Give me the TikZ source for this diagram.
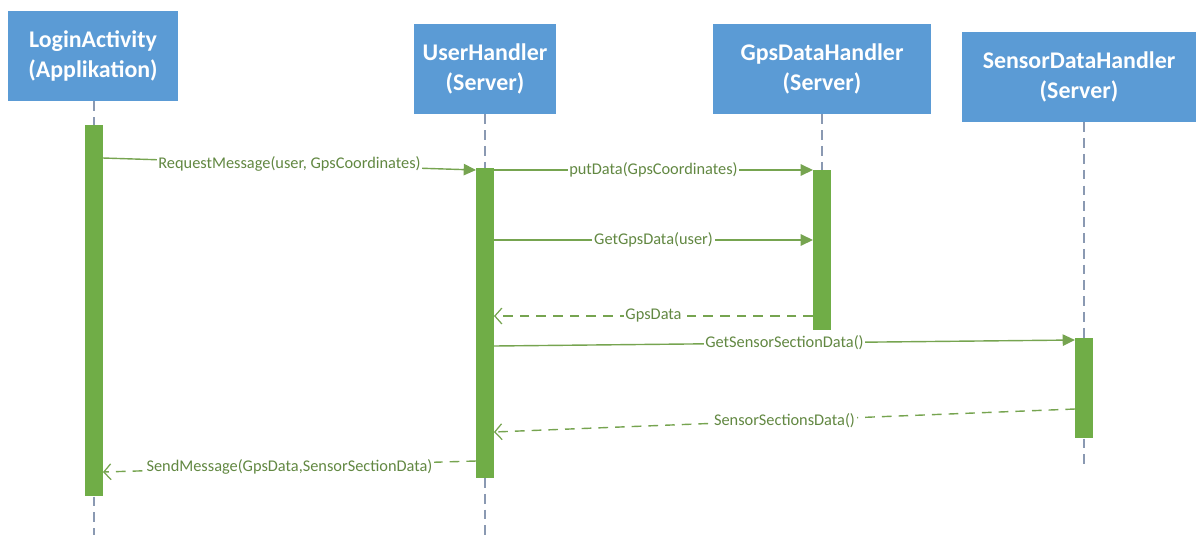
\documentclass[tikz,border=0pt]{standalone}
\usepackage{fontspec}
\setmainfont{Carlito}
\usetikzlibrary{arrows.meta,positioning,calc}

\definecolor{boxblue}{RGB}{91,155,213}
\definecolor{bargreen}{RGB}{112,173,71}
\definecolor{msggreen}{RGB}{118,164,80}
\definecolor{lblgreen}{RGB}{98,136,66}
\definecolor{lifegray}{RGB}{138,153,178}

\begin{document}
\begin{tikzpicture}[
    x=0.02cm,
    y=-0.02cm,
    actor/.style={
        draw=none,
        fill=boxblue,
        align=center,
        text=white,
        minimum height=1.8cm,
        inner sep=4pt,
        font=\fontsize{13.6}{17}\selectfont\bfseries
    },
    bar/.style={
        draw=none,
        fill=bargreen,
        minimum width=0.36cm,
        inner sep=0pt
    },
    lifeline/.style={
        lifegray,
        line width=0.6pt,
        dash pattern=on 5.5pt off 3.5pt
    },
    msg/.style={-{Triangle[length=7pt,width=6.5pt]}, line width=0.8pt, msggreen},
    ret/.style={-{Straight Barb[length=4pt,width=9pt,line width=0.7pt]},
        line width=0.8pt, msggreen, dash pattern=on 5.5pt off 4pt},
    lbl/.style={fill=white, inner sep=1pt, text=lblgreen,
        font=\fontsize{9.3}{11}\selectfont}
]

\useasboundingbox (0,0) rectangle (1204,535);

% ============================================================
% Participants
% ============================================================

\node[actor, minimum width=3.42cm] (login) at (93,56)
    {LoginActivity\\(Applikation)};

\node[actor, minimum width=2.86cm] (user) at (485,69)
    {UserHandler\\(Server)};

\node[actor, minimum width=4.36cm] (gps) at (822,69)
    {GpsDataHandler\\(Server)};

\node[actor, minimum width=4.68cm] (sensor) at (1079,77)
    {SensorDataHandler\\(Server)};

% Lifeline ends
\coordinate (loginend) at (94,535);
\coordinate (userend) at (485,535);
\coordinate (gpsend) at (822,330);
\coordinate (sensorend) at (1084,465);

\draw[lifeline] (loginend |- login.south) -- (loginend);
\draw[lifeline] (userend |- user.south) -- (userend);
\draw[lifeline] (gpsend |- gps.south) -- (gpsend);
\draw[lifeline] (sensorend |- sensor.south) -- (sensorend);

% ============================================================
% Activation bars
% ============================================================

\node[bar, minimum height=7.42cm] (loginbar) at (94,310.5) {};
\node[bar, minimum height=6.2cm] (userbar) at (485,323) {};
\node[bar, minimum height=3.2cm] (gpsbar) at (822,250) {};
\node[bar, minimum height=2cm] (sensorbar) at (1084,388) {};

% ============================================================
% Message end points
% ============================================================

\coordinate (req-a) at (103,158);
\coordinate (req-b) at (476,170);
\coordinate (put-a) at (494,170);
\coordinate (put-b) at (813,170);
\coordinate (get-a) at (494,240);
\coordinate (get-b) at (813,240);
\coordinate (gpsret-a) at (813,316);
\coordinate (gpsret-b) at (494,316);
\coordinate (sens-a) at (494,346);
\coordinate (sens-b) at (1075,340);
\coordinate (sensret-a) at (1075,409);
\coordinate (sensret-b) at (494,432);
\coordinate (send-a) at (476,461);
\coordinate (send-b) at (103,472);

% ============================================================
% Messages
% ============================================================

\draw[msg] (req-a) -- node[lbl] {RequestMessage(user, GpsCoordinates)} (req-b);

\draw[msg] (put-a) -- node[lbl] {putData(GpsCoordinates)} (put-b);

\draw[msg] (get-a) -- node[lbl] {GetGpsData(user)} (get-b);

\draw[ret] (gpsret-a) -- node[lbl] {GpsData} (gpsret-b);

\draw[msg] (sens-a) -- node[lbl] {GetSensorSectionData()} (sens-b);

\draw[ret] (sensret-a) -- node[lbl] {SensorSectionsData()} (sensret-b);

\draw[ret] (send-a) -- node[lbl] {SendMessage(GpsData,SensorSectionData)} (send-b);

\end{tikzpicture}
\end{document}
